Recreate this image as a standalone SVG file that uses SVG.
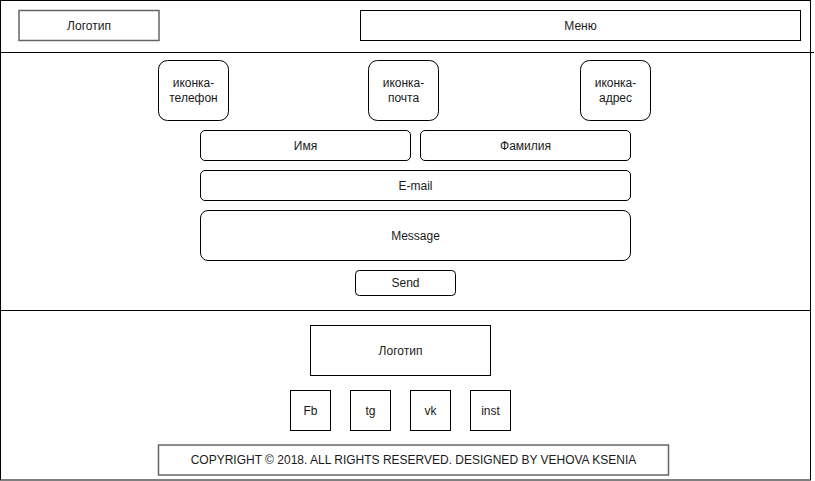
<svg xmlns="http://www.w3.org/2000/svg" width="815" height="481" viewBox="0 0 815 481">
<style>
text{font-family:"Liberation Sans",Arial,sans-serif;font-size:12px;fill:#1a1a1a;text-anchor:middle;dominant-baseline:central}
.b{fill:#fff;stroke:#000;stroke-width:1}
.g{fill:#fff;stroke:#666;stroke-width:1.5}
.l{stroke:#000;stroke-width:1;fill:none}
</style>
<rect width="815" height="481" fill="#fff"/>
<g id="frame">
<rect class="l" x="0.5" y="0.5" width="810" height="479.5"/>
</g>
<g id="connectors">
<line class="l" x1="0" y1="52.5" x2="814" y2="52.5"/>
<line class="l" x1="0" y1="310.5" x2="810.5" y2="310.5"/>
</g>
<g id="header-logo"><rect class="g" x="19" y="10.5" width="140" height="30"/><text x="89" y="25.5">Логотип</text></g>
<g id="menu"><rect class="b" x="360.5" y="10.5" width="440" height="30"/><text x="580.5" y="25.5">Меню</text></g>
<g id="icon-phone"><rect class="b" x="158.5" y="60.5" width="70" height="60" rx="9"/><text x="193.5" y="83">иконка-</text><text x="193.5" y="98">телефон</text></g>
<g id="icon-mail"><rect class="b" x="368.5" y="60.5" width="70" height="60" rx="9"/><text x="403.5" y="83">иконка-</text><text x="403.5" y="98">почта</text></g>
<g id="icon-address"><rect class="b" x="580.5" y="60.5" width="70" height="60" rx="9"/><text x="615.5" y="83">иконка-</text><text x="615.5" y="98">адрес</text></g>
<g id="name"><rect class="b" x="200.5" y="130.5" width="210" height="30" rx="4.5"/><text x="305.5" y="145.5">Имя</text></g>
<g id="surname"><rect class="b" x="420.5" y="130.5" width="210" height="30" rx="4.5"/><text x="525.5" y="145.5">Фамилия</text></g>
<g id="email"><rect class="b" x="200.5" y="170.5" width="430" height="30" rx="4.5"/><text x="415.5" y="185.5">E-mail</text></g>
<g id="message"><rect class="b" x="200.5" y="210.5" width="430" height="50" rx="7.5"/><text x="415.5" y="235.5">Message</text></g>
<g id="send"><rect class="b" x="355.5" y="270.5" width="100" height="25" rx="3.75"/><text x="405.5" y="283">Send</text></g>
<g id="footer-logo"><rect class="b" x="310.5" y="325.5" width="180" height="50"/><text x="400.5" y="350.5">Логотип</text></g>
<g id="fb"><rect class="b" x="290.5" y="390.5" width="40" height="40"/><text x="310.5" y="410.5">Fb</text></g>
<g id="tg"><rect class="b" x="350.5" y="390.5" width="40" height="40"/><text x="370.5" y="410.5">tg</text></g>
<g id="vk"><rect class="b" x="410.5" y="390.5" width="40" height="40"/><text x="430.5" y="410.5">vk</text></g>
<g id="inst"><rect class="b" x="470.5" y="390.5" width="40" height="40"/><text x="490.5" y="410.5">inst</text></g>
<g id="copyright"><rect class="g" x="158.5" y="445" width="510" height="30"/><text x="413.5" y="460">COPYRIGHT © 2018. ALL RIGHTS RESERVED. DESIGNED BY VEHOVA KSENIA</text></g>
</svg>
